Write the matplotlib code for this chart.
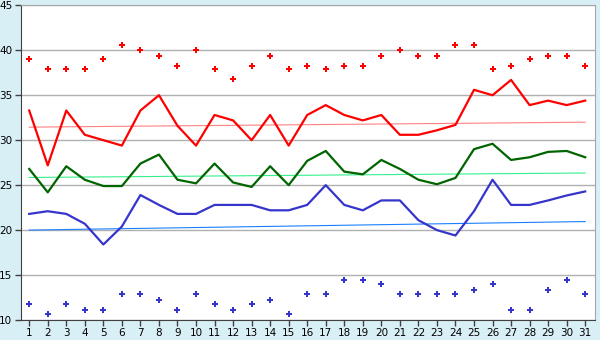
import numpy as np
import matplotlib
matplotlib.use("Agg")
import matplotlib.pyplot as plt

# daily values, days 1..31
days = np.arange(1, 32)

red_max = [39.0, 37.9, 37.9, 37.9, 39.0, 40.6, 40.0, 39.4, 38.3, 40.0,
           37.9, 36.8, 38.3, 39.4, 37.9, 38.3, 37.9, 38.3, 38.3, 39.4,
           40.0, 39.4, 39.4, 40.6, 40.6, 37.9, 38.3, 39.0, 39.4, 39.4, 38.3]
red_line = [33.3, 27.2, 33.3, 30.6, 30.0, 29.4, 33.3, 35.0, 31.6, 29.4,
            32.8, 32.2, 30.0, 32.8, 29.4, 32.8, 33.9, 32.8, 32.2, 32.8,
            30.6, 30.6, 31.1, 31.7, 35.6, 35.0, 36.7, 33.9, 34.4, 33.9, 34.4]
green_line = [26.8, 24.2, 27.1, 25.6, 24.9, 24.9, 27.4, 28.4, 25.6, 25.2,
              27.4, 25.3, 24.8, 27.1, 25.0, 27.7, 28.8, 26.5, 26.2, 27.8,
              26.8, 25.6, 25.1, 25.8, 29.0, 29.6, 27.8, 28.1, 28.7, 28.8, 28.1]
blue_line = [21.8, 22.1, 21.8, 20.7, 18.4, 20.4, 23.9, 22.8, 21.8, 21.8,
             22.8, 22.8, 22.8, 22.2, 22.2, 22.8, 25.0, 22.8, 22.2, 23.3,
             23.3, 21.1, 20.0, 19.4, 22.1, 25.6, 22.8, 22.8, 23.3, 23.85, 24.3]
blue_min = [11.8, 10.7, 11.8, 11.1, 11.1, 12.9, 12.9, 12.2, 11.1, 12.9,
            11.8, 11.1, 11.8, 12.2, 10.7, 12.9, 12.9, 14.4, 14.4, 14.0,
            12.9, 12.9, 12.9, 12.9, 13.3, 14.0, 11.1, 11.1, 13.3, 14.4, 12.9]

# normals (start, end of month)
red_trend = [31.45, 32.0]
green_trend = [25.85, 26.35]
blue_trend = [20.0, 20.95]
trend_days = [1, 31]

bg = "#d9eff6"
fig = plt.figure(figsize=(6, 3.4), dpi=100, facecolor=bg)
ax = fig.add_axes([0.0345, 0.0588, 0.9575, 0.9256])
ax.set_facecolor("white")

ax.plot(trend_days, red_trend, color="#ff8080", lw=0.8)
ax.plot(trend_days, green_trend, color="#33f08c", lw=0.8)
ax.plot(trend_days, blue_trend, color="#1a7fff", lw=0.8)

ax.plot(days, red_line, color="#ff0000", lw=1.6)
ax.plot(days, green_line, color="#006400", lw=1.6)
ax.plot(days, blue_line, color="#3535cc", lw=1.6)

ax.plot(days, red_max, "P", color="#ff0000", ms=3.8, mew=0)
ax.plot(days, blue_min, "P", color="#3535cc", ms=3.8, mew=0)

ax.set_xlim(0.54, 31.54)
ax.set_ylim(10, 45)
ax.set_xticks(days)
ax.set_yticks(range(10, 46, 5))
ax.grid(axis="y", color="#b0b0b0", lw=1)
ax.set_axisbelow(True)

for s in ["top", "right"]:
    ax.spines[s].set_color("#a8a8a8")
for s in ["left", "bottom"]:
    ax.spines[s].set_color("#404040")
ax.tick_params(length=4, width=1, color="#404040", labelsize=7.5, pad=2)

fig.savefig("out.png", dpi=100, facecolor=bg)
